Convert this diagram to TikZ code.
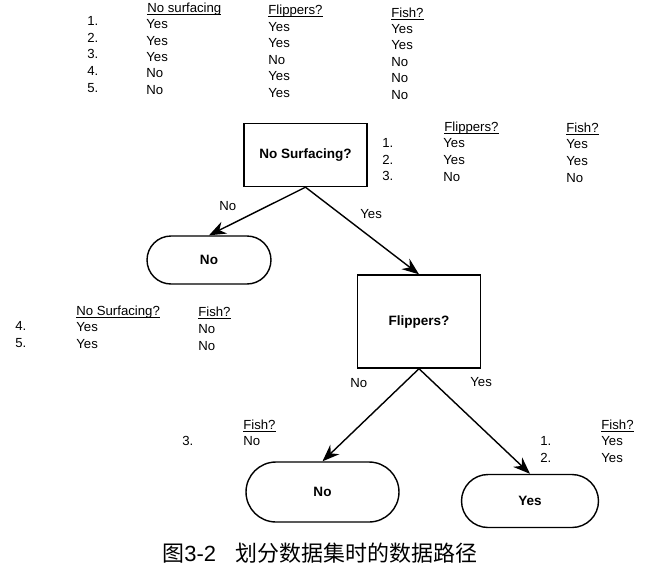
\documentclass[tikz,border=0pt]{standalone}
\usepackage{fontspec}
\setmainfont{Liberation Sans}
\newfontfamily\cjkfont{Noto Sans CJK SC}
\usetikzlibrary{arrows.meta,shapes.misc}

\newcommand{\colhead}[1]{\underline{\smash{#1}}}

\tikzset{
  decision/.style={draw, line width=0.8pt, minimum width=2.46cm, minimum height=1.26cm,
    font=\fontsize{7.7}{9}\selectfont\bfseries},
  leaf/.style={draw, rounded rectangle, line width=0.8pt, inner sep=0pt,
    font=\fontsize{7.7}{9}\selectfont\bfseries},
  cell/.style={anchor=base west, inner sep=0pt, font=\fontsize{7.5}{9}\selectfont},
  branch/.style={-{Stealth[length=3.4mm,width=2.6mm]}, line width=0.8pt}
}

\begin{document}
\begin{tikzpicture}[x=0.02cm, y=-0.02cm]
                \useasboundingbox (0,0) rectangle (652,569);

                % Whole data set
                \node[cell] (h1) at (147,12) {\colhead{No surfacing}};
                \node[cell] (h2) at (268,14) {\colhead{Flippers?}};
                \node[cell] (h3) at (391,17) {\colhead{Fish?}};
                \node[cell] (r1) at (87,25) {1.};
                \node[cell] (r2) at (87,42) {2.};
                \node[cell] (r3) at (87,58) {3.};
                \node[cell] (r4) at (87,75) {4.};
                \node[cell] (r5) at (87,92) {5.};
                \node[cell] (a1) at (146,28) {Yes};
                \node[cell] (a2) at (146,45) {Yes};
                \node[cell] (a3) at (146,61) {Yes};
                \node[cell] (a4) at (146,77) {No};
                \node[cell] (a5) at (146,94) {No};
                \node[cell] (b1) at (268,31) {Yes};
                \node[cell] (b2) at (268,47) {Yes};
                \node[cell] (b3) at (268,64) {No};
                \node[cell] (b4) at (268,80) {Yes};
                \node[cell] (b5) at (268,97) {Yes};
                \node[cell] (c1) at (391,33) {Yes};
                \node[cell] (c2) at (391,49) {Yes};
                \node[cell] (c3) at (391,66) {No};
                \node[cell] (c4) at (391,82) {No};
                \node[cell] (c5) at (391,99) {No};

                % Tree
                \node[decision] (surf) at (305.5,155) {No Surfacing?};
                \node[leaf, minimum width=2.48cm, minimum height=0.96cm] (no1) at (209,260) {No};
                \node[decision, minimum width=2.46cm, minimum height=1.86cm] (flip) at (419,321.5) {Flippers?};
                \node[leaf, minimum width=3.06cm, minimum height=1.2cm] (no2) at (322.5,492) {No};
                \node[leaf, minimum width=2.74cm, minimum height=1.06cm] (yes2) at (530,501) {Yes};

                \draw[branch] (surf.south) -- (no1.north);
                \draw[branch] (surf.south) -- (flip.north);
                \draw[branch] (flip.south) -- (no2.north);
                \draw[branch] (flip.south) -- (yes2.north);

                \node[cell] (lno1) at (219,210) {No};
                \node[cell] (lyes1) at (360,218) {Yes};
                \node[cell] (lno2) at (350,387) {No};
                \node[cell] (lyes2) at (470,386) {Yes};

                % Subset: no surfacing = yes
                \node[cell] (s1) at (444,131) {\colhead{Flippers?}};
                \node[cell] (s2) at (566,132) {\colhead{Fish?}};
                \node[cell] (s3) at (382,147) {1.};
                \node[cell] (s4) at (382,164) {2.};
                \node[cell] (s5) at (382,180) {3.};
                \node[cell] (s6) at (443,147) {Yes};
                \node[cell] (s7) at (443,164) {Yes};
                \node[cell] (s8) at (443,181) {No};
                \node[cell] (s9) at (566,148) {Yes};
                \node[cell] (s10) at (566,165) {Yes};
                \node[cell] (s11) at (566,182) {No};

                % Subset: no surfacing = no
                \node[cell] (t1) at (76,315) {\colhead{No Surfacing?}};
                \node[cell] (t2) at (198,316) {\colhead{Fish?}};
                \node[cell] (t3) at (15,330) {4.};
                \node[cell] (t4) at (15,347) {5.};
                \node[cell] (t5) at (76,331) {Yes};
                \node[cell] (t6) at (76,348) {Yes};
                \node[cell] (t7) at (198,333) {No};
                \node[cell] (t8) at (198,350) {No};

                % Subset: flippers = no
                \node[cell] (u1) at (243,429) {\colhead{Fish?}};
                \node[cell] (u2) at (182,445) {3.};
                \node[cell] (u3) at (243,445) {No};

                % Subset: flippers = yes
                \node[cell] (v1) at (601,429) {\colhead{Fish?}};
                \node[cell] (v2) at (540,445) {1.};
                \node[cell] (v3) at (540,462) {2.};
                \node[cell] (v4) at (601,445) {Yes};
                \node[cell] (v5) at (601,462) {Yes};

                \node[anchor=west, inner sep=0pt, font=\fontsize{12.5}{14}\selectfont] (cap) at (162,553)
                  {{\cjkfont 图}3-2\hspace{0.9em}{\cjkfont 划分数据集时的数据路径}};
            \end{tikzpicture}
\end{document}
